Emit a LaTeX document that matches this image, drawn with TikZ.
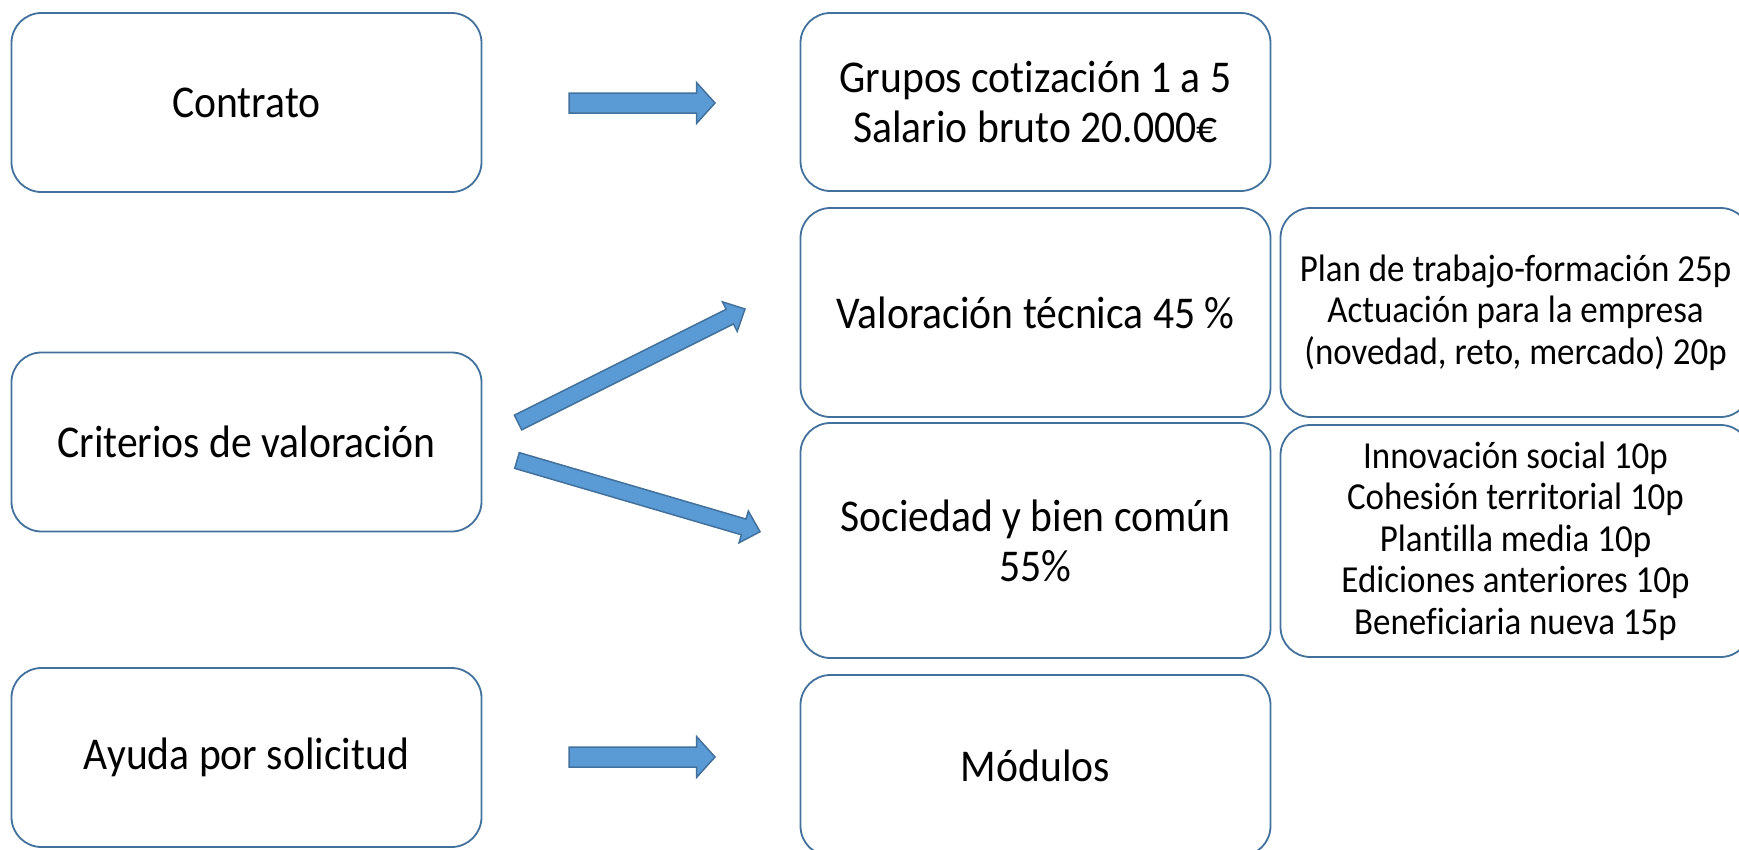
\documentclass[tikz,border=0pt]{standalone}
\usepackage{fontspec}
\setmainfont{Carlito}[Ligatures=NoCommon, FakeStretch=0.915]
\usetikzlibrary{calc}

\definecolor{BoxLine}{HTML}{41719C}
\definecolor{ArrowFill}{HTML}{5B9BD5}

\def\ShaftW{10bp}	%half width of the arrow shaft
\def\HeadW{20.5bp}	%half width of the arrow head
\def\HeadL{18.5bp}	%length of the arrow head
\newcommand{\BlockArrow}[2]{%	#1 = tail, #2 = tip
	\filldraw[ArrowShape]
		($(#1)!\ShaftW!90:(#2)$) --
		($($(#2)!\HeadL!(#1)$)!\ShaftW!-90:(#1)$) --
		($($(#2)!\HeadL!(#1)$)!\HeadW!-90:(#1)$) --
		(#2) --
		($($(#2)!\HeadL!(#1)$)!\HeadW!90:(#1)$) --
		($($(#2)!\HeadL!(#1)$)!\ShaftW!90:(#1)$) --
		($(#1)!\ShaftW!-90:(#2)$) -- cycle;}

\begin{document}
\begin{tikzpicture}
	[x=1bp, y=-1bp,
	 Box/.style={draw=BoxLine, line width=1.8bp, rounded corners=30bp, minimum width=470bp, inner sep=0pt, align=center, font=\fontsize{45.5bp}{50bp}\selectfont},	%Options for the boxes
	 SmallBox/.style={Box, font=\fontsize{38.2bp}{41.5bp}\selectfont},
	 ArrowShape/.style={fill=ArrowFill, draw=BoxLine, line width=1.5bp, line join=miter}
	]

	\useasboundingbox (0,0) rectangle (1739,850);

	\node[Box, minimum height=179bp] (Contrato) at (246.5,102.5) {Contrato};
	\node[Box, minimum height=179bp] (Criterios) at (246.5,442) {Criterios de valoración};
	\node[Box, minimum height=179bp] (Ayuda) at (246.5,757.5) {Ayuda por solicitud};

	\node[Box, minimum height=178bp] (Grupos) at (1035.5,102) {Grupos cotización 1 a 5\\Salario bruto 20.000€};
	\node[Box, minimum height=209bp] (Tecnica) at (1035.5,312.5) {Valoración técnica 45 \%};
	\node[Box, minimum height=235bp] (Sociedad) at (1035.5,540.5) {Sociedad y bien común\\55\%};
	\node[Box, minimum height=181bp] (Modulos) at (1035.5,765.5) {Módulos};

	\node[SmallBox, minimum height=209bp] (Plan) at (1515.5,312.5) {Plan de trabajo-formación 25p\\Actuación para la empresa\\(novedad, reto, mercado) 20p};
	\node[SmallBox, minimum height=232bp] (Innovacion) at (1515.5,541) {Innovación social 10p\\Cohesión territorial 10p\\Plantilla media 10p\\Ediciones anteriores 10p\\Beneficiaria nueva 15p};

	\coordinate (ContratoTail) at (569,103);	\coordinate (ContratoTip) at (715,103);
	\coordinate (AyudaTail) at (569,757);		\coordinate (AyudaTip) at (715,757);
	\coordinate (TecnicaTail) at (518,422.5);	\coordinate (TecnicaTip) at (745,309);
	\coordinate (SociedadTail) at (517,460.5);	\coordinate (SociedadTip) at (760,531.7);

	\BlockArrow{ContratoTail}{ContratoTip}	%Contrato -> Grupos
	\BlockArrow{AyudaTail}{AyudaTip}		%Ayuda -> Modulos

	\def\ShaftW{8.2bp}\def\HeadW{16.5bp}\def\HeadL{17bp}
	\BlockArrow{TecnicaTail}{TecnicaTip}	%Criterios -> Tecnica
	\BlockArrow{SociedadTail}{SociedadTip}	%Criterios -> Sociedad

\end{tikzpicture}
\end{document}
